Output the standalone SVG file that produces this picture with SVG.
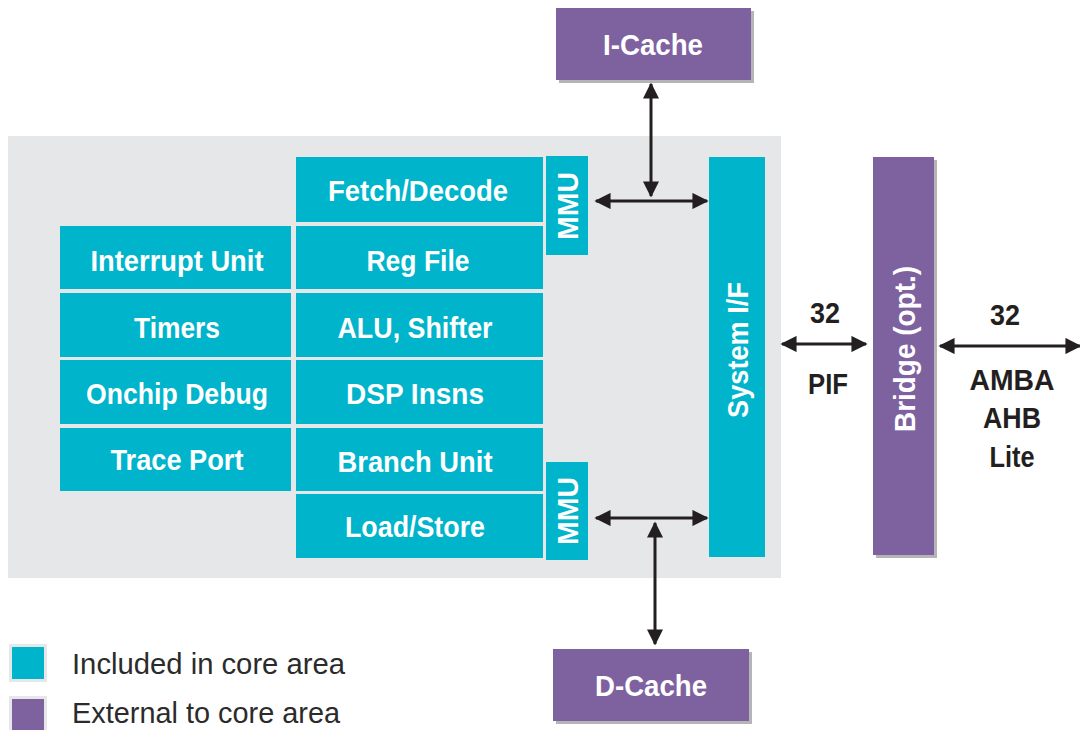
<svg xmlns="http://www.w3.org/2000/svg" width="1080" height="730" viewBox="0 0 1080 730">
<defs>
<style>
.core{fill:#00B4CB;}
.ext{fill:#7E62A0;}
.shadow{fill:#B5B5B7;}
.lbl{font-family:"Liberation Sans",Arial,sans-serif;font-weight:bold;font-size:30px;fill:#FFFFFF;text-anchor:middle;}
.blk{font-family:"Liberation Sans",Arial,sans-serif;font-weight:bold;font-size:30px;fill:#231F20;text-anchor:middle;}
.leg{font-family:"Liberation Sans",Arial,sans-serif;font-size:30px;fill:#2B2B2B;}
.wire{stroke:#231F20;stroke-width:3;fill:none;marker-start:url(#ah);marker-end:url(#ah);}
</style>
<marker id="ah" viewBox="0 0 10 10" refX="9" refY="5" markerWidth="6" markerHeight="5.4" markerUnits="strokeWidth" orient="auto-start-reverse">
<path d="M0,0 L10,5 L0,10 z" fill="#231F20"/>
</marker>
</defs>
<rect width="1080" height="730" fill="#FFFFFF"/>
<!-- core area backdrop -->
<rect x="8" y="136" width="773" height="442" fill="#E6E7E8"/>

<g id="fetch"><rect class="core" x="296" y="157" width="247" height="65"/><text class="lbl" x="418" y="201" textLength="180" lengthAdjust="spacingAndGlyphs">Fetch/Decode</text></g>
<g id="interrupt"><rect class="core" x="60" y="226" width="231" height="63"/><text class="lbl" x="177" y="271" textLength="173" lengthAdjust="spacingAndGlyphs">Interrupt Unit</text></g>
<g id="regfile"><rect class="core" x="296" y="226" width="247" height="63"/><text class="lbl" x="418" y="271" textLength="103" lengthAdjust="spacingAndGlyphs">Reg File</text></g>
<g id="timers"><rect class="core" x="60" y="293" width="231" height="64"/><text class="lbl" x="177" y="338" textLength="86" lengthAdjust="spacingAndGlyphs">Timers</text></g>
<g id="alu"><rect class="core" x="296" y="293" width="247" height="64"/><text class="lbl" x="415" y="338" textLength="155" lengthAdjust="spacingAndGlyphs">ALU, Shifter</text></g>
<g id="debug"><rect class="core" x="60" y="360" width="231" height="64"/><text class="lbl" x="177" y="404" textLength="182" lengthAdjust="spacingAndGlyphs">Onchip Debug</text></g>
<g id="dsp"><rect class="core" x="296" y="360" width="247" height="64"/><text class="lbl" x="415" y="404" textLength="138" lengthAdjust="spacingAndGlyphs">DSP Insns</text></g>
<g id="trace"><rect class="core" x="60" y="428" width="231" height="63"/><text class="lbl" x="177" y="470" textLength="133" lengthAdjust="spacingAndGlyphs">Trace Port</text></g>
<g id="branch"><rect class="core" x="296" y="428" width="247" height="63"/><text class="lbl" x="415" y="472" textLength="155" lengthAdjust="spacingAndGlyphs">Branch Unit</text></g>
<g id="loadstore"><rect class="core" x="296" y="494" width="247" height="64"/><text class="lbl" x="415" y="537" textLength="140" lengthAdjust="spacingAndGlyphs">Load/Store</text></g>
<g id="mmu-i"><rect class="core" x="546" y="156" width="42" height="99"/><text class="lbl" transform="translate(578,206) rotate(-90)" textLength="68" lengthAdjust="spacingAndGlyphs">MMU</text></g>
<g id="mmu-d"><rect class="core" x="546" y="462" width="42" height="98"/><text class="lbl" transform="translate(578,511) rotate(-90)" textLength="68" lengthAdjust="spacingAndGlyphs">MMU</text></g>
<g id="sysif"><rect class="core" x="709" y="157" width="56" height="400"/><text class="lbl" transform="translate(748,350) rotate(-90)" textLength="136" lengthAdjust="spacingAndGlyphs">System I/F</text></g>

<g id="icache"><rect class="shadow" x="559" y="11" width="195" height="72"/><rect class="ext" x="556" y="8" width="195" height="72"/><text class="lbl" x="653" y="55" textLength="100" lengthAdjust="spacingAndGlyphs">I-Cache</text></g>
<g id="dcache"><rect class="shadow" x="556" y="652" width="196" height="72"/><rect class="ext" x="553" y="649" width="196" height="72"/><text class="lbl" x="651" y="696" textLength="112" lengthAdjust="spacingAndGlyphs">D-Cache</text></g>
<g id="bridge"><rect class="shadow" x="876" y="160" width="61" height="398"/><rect class="ext" x="873" y="157" width="61" height="398"/><text class="lbl" transform="translate(915,349) rotate(-90)" textLength="166" lengthAdjust="spacingAndGlyphs">Bridge (opt.)</text></g>

<g id="connectors">
<line class="wire" x1="651" y1="84" x2="651" y2="196"/>
<line class="wire" x1="596" y1="201" x2="707" y2="201"/>
<line class="wire" x1="596" y1="518" x2="707" y2="518"/>
<line class="wire" x1="655" y1="523" x2="655" y2="644"/>
<line class="wire" x1="782" y1="344" x2="866" y2="344"/>
<line class="wire" x1="940" y1="346" x2="1080" y2="346"/>
</g>

<g id="labels">
<text class="blk" x="825" y="323" textLength="30" lengthAdjust="spacingAndGlyphs">32</text>
<text class="blk" x="828" y="394" textLength="40" lengthAdjust="spacingAndGlyphs">PIF</text>
<text class="blk" x="1005" y="325" textLength="30" lengthAdjust="spacingAndGlyphs">32</text>
<text class="blk" x="1012" y="390" textLength="85" lengthAdjust="spacingAndGlyphs">AMBA</text>
<text class="blk" x="1012" y="428" textLength="58" lengthAdjust="spacingAndGlyphs">AHB</text>
<text class="blk" x="1012" y="467" textLength="45" lengthAdjust="spacingAndGlyphs">Lite</text>
</g>

<g id="legend">
<rect x="9" y="644" width="38" height="38" fill="#E6E7E8"/>
<rect class="core" x="12" y="647" width="32" height="32"/>
<text class="leg" x="72" y="674" textLength="273" lengthAdjust="spacingAndGlyphs">Included in core area</text>
<rect x="9" y="696" width="38" height="38" fill="#E6E7E8"/>
<rect class="ext" x="12" y="699" width="32" height="32"/>
<text class="leg" x="72" y="723" textLength="268" lengthAdjust="spacingAndGlyphs">External to core area</text>
</g>
</svg>
